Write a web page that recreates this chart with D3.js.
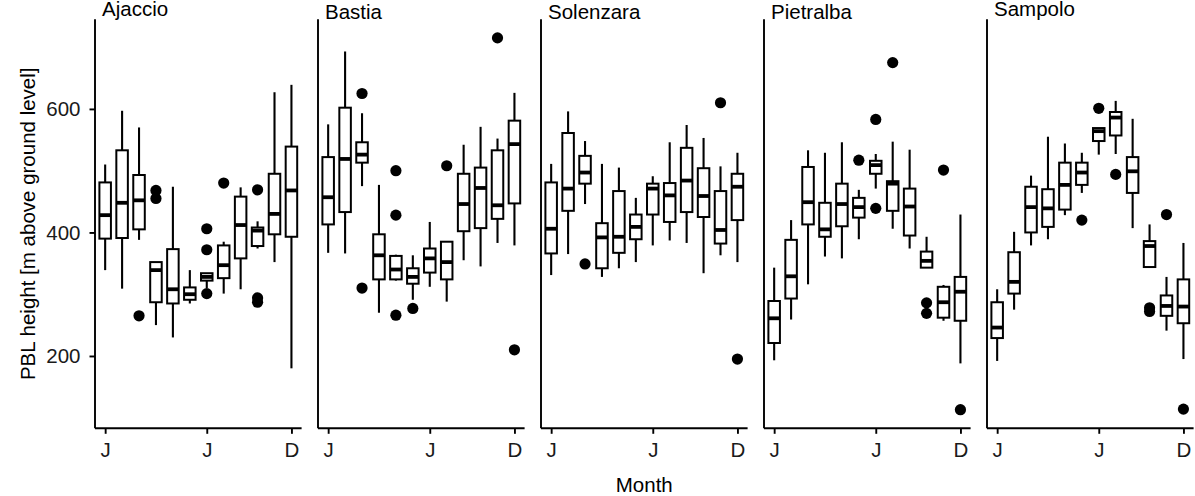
<!DOCTYPE html>
<html><head><meta charset="utf-8">
<script src="https://cdn.jsdelivr.net/npm/d3@7"></script>
<style>body{margin:0;background:#fff}svg{display:block}</style>
</head><body>
<svg id="chart" width="1195" height="496"></svg>
<script>
// ---------- data ----------
const stations = ["Ajaccio", "Bastia", "Solenzara", "Pietralba", "Sampolo"];
const months = [1, 2, 3, 4, 5, 6, 7, 8, 9, 10, 11, 12];
const xTickMonths = [1, 7, 12];
const xTickLabels = ["J", "J", "D"];
const yTicks = [200, 400, 600];
const xTitle = "Month";
const yTitle = "PBL height [m above ground level]";

// per month: [lower whisker, Q1, median, Q3, upper whisker]
const ajaccioBox = [
  [339, 390, 428, 481, 510], [309, 391, 448, 533, 597], [388, 405, 452, 493, 570],
  [250, 287, 339, 352, 352], [230, 285, 308, 373, 474], [285, 291, 300, 311, 339],
  [310, 322, 328, 334, 334], [301, 326, 347, 379, 385], [308, 358, 412, 458, 473],
  [374, 378, 403, 408, 418], [352, 397, 430, 495, 627], [180, 393, 468, 539, 639]
];
const bastiaBox = [
  [367, 413, 457, 522, 575], [366, 433, 519, 602, 693], [475, 513, 526, 546, 593],
  [270, 324, 363, 397, 477], [322, 324, 340, 362, 364], [291, 317, 328, 342, 363],
  [312, 335, 358, 374, 417], [288, 324, 352, 385, 386], [355, 402, 446, 495, 542],
  [345, 407, 472, 505, 571], [383, 422, 444, 533, 552], [379, 447, 543, 581, 626]
];
const solenzaraBox = [
  [331, 366, 406, 481, 511], [365, 435, 471, 561, 596], [446, 479, 497, 524, 548],
  [328, 342, 392, 415, 511], [342, 367, 393, 467, 505], [352, 389, 409, 429, 456],
  [379, 429, 471, 479, 491], [387, 417, 460, 480, 546], [383, 433, 484, 537, 574],
  [334, 425, 459, 504, 553], [363, 382, 404, 467, 507], [352, 420, 474, 495, 529]
];
const pietralbaBox = [
  [193, 221, 261, 289, 343], [259, 293, 329, 388, 420], [316, 413, 449, 506, 533],
  [361, 393, 405, 448, 529], [358, 410, 446, 479, 546], [389, 424, 441, 456, 469],
  [471, 495, 509, 516, 527], [406, 435, 479, 483, 547], [374, 395, 442, 471, 534],
  [343, 343, 354, 369, 393], [257, 262, 287, 312, 315], [188, 257, 304, 328, 429]
];
const sampoloBox = [
  [192, 229, 246, 287, 308], [275, 301, 320, 368, 401], [379, 400, 441, 474, 492],
  [389, 409, 439, 470, 555], [428, 437, 477, 513, 544], [464, 477, 497, 513, 529],
  [526, 548, 564, 569, 569], [527, 557, 586, 595, 613], [407, 464, 499, 522, 584],
  [344, 344, 378, 386, 413], [241, 265, 281, 298, 328], [195, 253, 280, 324, 383]
];

// outliers: [month, value]
const ajaccioOut = [[3, 265], [4, 468], [4, 455], [7, 406], [7, 372], [7, 301], [8, 480], [10, 469], [10, 294], [10, 287]];
const bastiaOut = [[3, 625], [3, 310], [5, 500], [5, 428], [5, 266], [6, 277], [8, 508], [11, 715], [12, 210]];
const solenzaraOut = [[3, 349], [11, 610], [12, 195]];
const pietralbaOut = [[6, 517], [7, 583], [7, 439], [8, 675], [10, 286], [10, 269], [11, 501], [12, 113]];
const sampoloOut = [[6, 420], [7, 601], [8, 494], [10, 278], [10, 272], [11, 429], [12, 114]];

const boxSets = [ajaccioBox, bastiaBox, solenzaraBox, pietralbaBox, sampoloBox];
const outSets = [ajaccioOut, bastiaOut, solenzaraOut, pietralbaOut, sampoloOut];

// ---------- layout ----------
const svg = d3.select("#chart");
const FONT = "'Liberation Sans', Arial, sans-serif";
const plotTop = 19.3, plotBottom = 428.3;
const panel0 = 95, panelStep = 223, panelW = 206.6;
const boxFrac = 0.68;

let allVals = [];
boxSets.forEach(s => s.forEach(b => allVals.push(b[0], b[4])));
outSets.forEach(s => s.forEach(o => allVals.push(o[1])));
const vmin = d3.min(allVals), vmax = d3.max(allVals);
const pad = (vmax - vmin) * 0.05;
const y = d3.scaleLinear().domain([vmin - pad, vmax + pad]).range([plotBottom, plotTop]);

stations.forEach((name, i) => {
  const left = panel0 + i * panelStep;
  const x = d3.scaleLinear().domain([0.4, 12.6]).range([left, left + panelW]);
  const bw = (x(2) - x(1)) * boxFrac;
  const g = svg.append("g");

  // axes
  const xAxis = d3.axisBottom(x).tickValues(xTickMonths)
    .tickFormat((d, k) => xTickLabels[k]).tickSize(5.5).tickPadding(4);
  const gx = g.append("g").attr("transform", `translate(0,${plotBottom})`).call(xAxis);
  gx.select(".domain").attr("d", `M${left},0H${left + panelW}`).attr("stroke", "#000").attr("stroke-width", 1.9);
  gx.selectAll(".tick line").attr("stroke", "#000").attr("stroke-width", 1.9);
  gx.selectAll(".tick text").attr("font-family", FONT).attr("font-size", 20.5).attr("fill", "#1a1a1a")
    .attr("y", 14.5).attr("dy", "0.71em");

  const yAxis = d3.axisLeft(y).tickValues(i === 0 ? yTicks : []).tickSize(5.5).tickPadding(9);
  const gy = g.append("g").attr("transform", `translate(${left},0)`).call(yAxis);
  gy.select(".domain").attr("d", `M0,${plotTop}V${plotBottom}`).attr("stroke", "#000").attr("stroke-width", 1.9);
  gy.selectAll(".tick line").attr("stroke", "#000").attr("stroke-width", 1.9);
  gy.selectAll(".tick text").attr("font-family", FONT).attr("font-size", 20.5).attr("fill", "#1a1a1a");

  // boxes
  const data = boxSets[i].map((b, k) => ({ m: months[k], b }));
  const bx = g.append("g").selectAll("g").data(data).join("g");
  bx.append("line").attr("x1", d => x(d.m)).attr("x2", d => x(d.m))
    .attr("y1", d => y(d.b[0])).attr("y2", d => y(d.b[1]))
    .attr("stroke", "#000").attr("stroke-width", 2.1);
  bx.append("line").attr("x1", d => x(d.m)).attr("x2", d => x(d.m))
    .attr("y1", d => y(d.b[3])).attr("y2", d => y(d.b[4]))
    .attr("stroke", "#000").attr("stroke-width", 2.1);
  bx.append("rect").attr("x", d => x(d.m) - bw / 2).attr("width", bw)
    .attr("y", d => y(d.b[3])).attr("height", d => y(d.b[1]) - y(d.b[3]))
    .attr("fill", "#fff").attr("stroke", "#000").attr("stroke-width", 2);
  bx.append("line").attr("x1", d => x(d.m) - bw / 2).attr("x2", d => x(d.m) + bw / 2)
    .attr("y1", d => y(d.b[2])).attr("y2", d => y(d.b[2]))
    .attr("stroke", "#000").attr("stroke-width", 3.8);

  // outliers
  g.append("g").selectAll("circle").data(outSets[i]).join("circle")
    .attr("cx", d => x(d[0])).attr("cy", d => y(d[1])).attr("r", 5.6).attr("fill", "#000");

  // strip label
  const hasDesc = /[gjpqy]/.test(name);
  g.append("text").attr("x", left + 7).attr("y", hasDesc ? 15.5 : 19)
    .attr("font-family", FONT).attr("font-size", 20.5).attr("fill", "#000").text(name);
});

// titles
svg.append("text").attr("x", panel0 + (4 * panelStep + panelW) / 2).attr("y", 492)
  .attr("text-anchor", "middle").attr("font-family", FONT).attr("font-size", 20.5).attr("fill", "#000").text(xTitle);
svg.append("text").attr("transform", `translate(35,${(plotTop + plotBottom) / 2}) rotate(-90)`)
  .attr("text-anchor", "middle").attr("font-family", FONT).attr("font-size", 20.5).attr("fill", "#000").text(yTitle);
</script>
</body></html>
